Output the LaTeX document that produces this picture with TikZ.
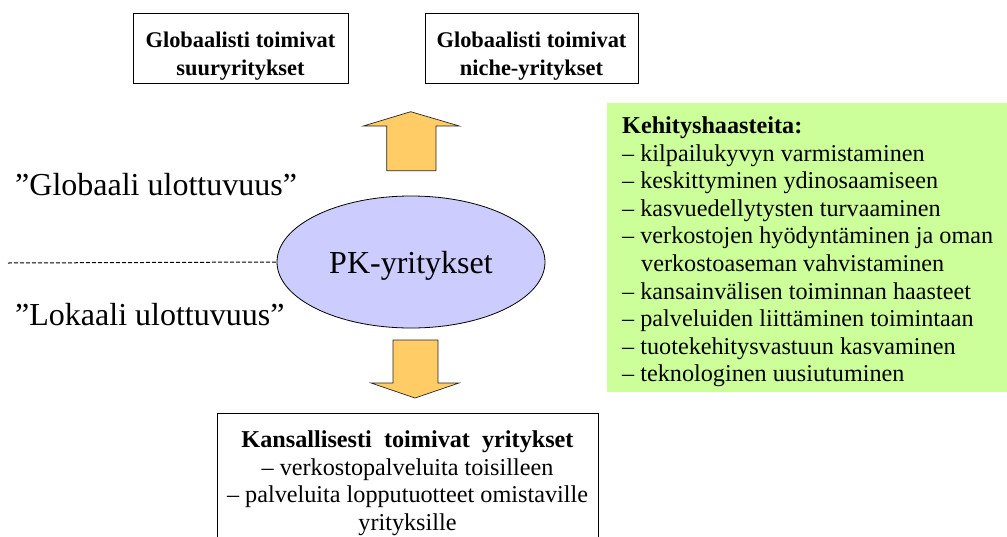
\documentclass[tikz,border=0pt]{standalone}
\usepackage{fontspec}
\setmainfont{Liberation Serif}
\usetikzlibrary{shapes.geometric}
\definecolor{boxgreen}{HTML}{CCFF99}
\definecolor{ovalblue}{HTML}{CCCCFF}
\definecolor{arroworange}{HTML}{FFCC66}
\begin{document}
\begin{tikzpicture}[x=1pt,y=-1pt,
  txt/.style={font=\fontsize{22.4}{27.8}\selectfont, inner sep=0pt, align=center},
  framebox/.style={draw=black, line width=1pt, minimum height=70pt, inner sep=0pt},
  blockarrow/.style={fill=arroworange, draw=black!85, line width=0.7pt, line join=miter},
  big/.style={font=\fontsize{32}{38}\selectfont, inner sep=0pt},
  divider/.style={draw=black, line width=1pt, dash pattern=on 4pt off 2pt}]

\clip (0,0) rectangle (1007,536);
\fill[white] (0,0) rectangle (1007,536);

% global companies
\node[framebox, minimum width=215pt] (glob1) at (240.5,48) {};
\node[txt, anchor=north, font=\fontsize{22.4}{28}\selectfont\bfseries] (glob1t) at (240.5,31.8)
  {Globaalisti toimivat\\suuryritykset};
\node[framebox, minimum width=213pt] (glob2) at (531.5,48) {};
\node[txt, anchor=north, font=\fontsize{22.4}{28}\selectfont\bfseries] (glob2t) at (531.5,31.8)
  {Globaalisti toimivat\\niche-yritykset};

% SMEs
\node[ellipse, draw=black, line width=0.8pt, fill=ovalblue, minimum width=268pt,
  minimum height=132pt, big, text height=29pt, text depth=7pt] (pk) at (411,262) {PK-yritykset};

% dimension labels and divider
\coordinate (dashstart) at (8,263);
\draw[divider] (dashstart) -- (pk.west);
\node[big, anchor=base west] (globdim) at (15,195) {”Globaali ulottuvuus”};
\node[big, anchor=base west] (lokdim) at (15,325) {”Lokaali ulottuvuus”};

% block arrows
\draw[blockarrow] (386.7,170.7) -- (386.7,126) -- (363.3,126) -- (410.7,111.7)
  -- (459.3,126) -- (436,126) -- (436,170.7) -- cycle;
\draw[blockarrow] (393,340) -- (438,340) -- (438,383) -- (459,383) -- (415,398)
  -- (371,383) -- (393,383) -- cycle;

% development challenges
\node[fill=boxgreen, minimum width=400pt, minimum height=289pt, anchor=north west, inner sep=0pt]
  (challenges) at (607,103) {};
\node[txt, anchor=north west, align=left, font=\fontsize{24.2}{27.6}\selectfont] (challist) at (622,116.6)
  {\textbf{Kehityshaasteita:}\\
   – kilpailukyvyn varmistaminen\\
   – keskittyminen ydinosaamiseen\\
   – kasvuedellytysten turvaaminen\\
   – verkostojen hyödyntäminen ja oman\\
   \hspace*{19pt}verkostoaseman vahvistaminen\\
   – kansainvälisen toiminnan haasteet\\
   – palveluiden liittäminen toimintaan\\
   – tuotekehitysvastuun kasvaminen\\
   – teknologinen uusiutuminen};

% national companies
\node[draw=black, line width=1pt, minimum width=381pt, minimum height=150pt, anchor=north, inner sep=0pt]
  (national) at (407.5,413) {};
\node[txt, anchor=north, font=\fontsize{24.2}{27.7}\selectfont] (nationalt) at (407.5,430.6)
  {\textbf{Kansallisesti\ \ toimivat\ \ yritykset}\\
   – verkostopalveluita toisilleen\\
   – palveluita lopputuotteet omistaville\\
   yrityksille};
\end{tikzpicture}
\end{document}
